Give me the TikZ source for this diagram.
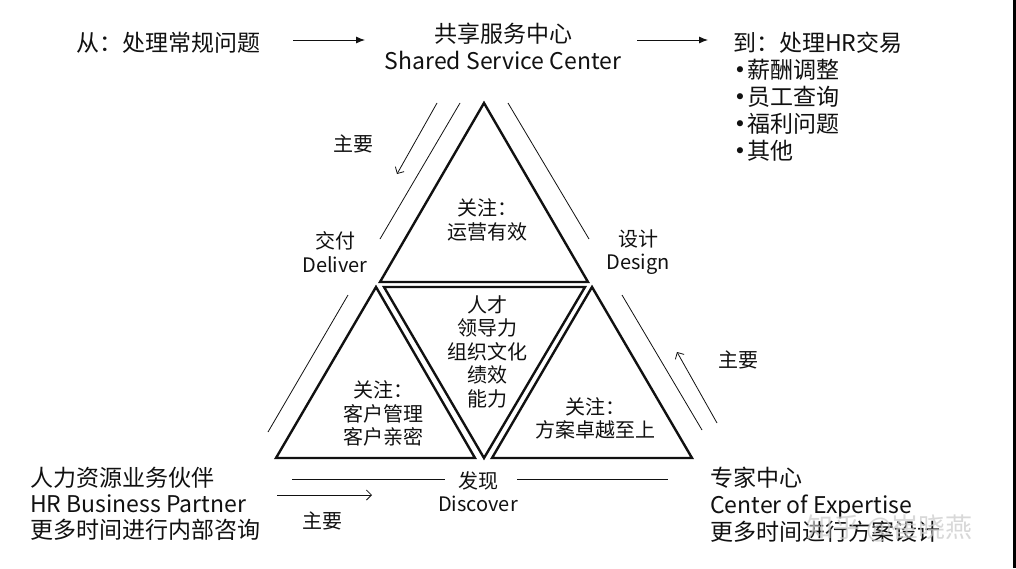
\documentclass[tikz,border=0pt]{standalone}
\usepackage{fontspec}
\setmainfont{Noto Sans CJK SC}
\newfontfamily\dejavu{DejaVu Sans}
\usetikzlibrary{arrows.meta}
\definecolor{ink}{HTML}{111111}
\tikzset{
  tri/.style={draw=ink, line width=2.4pt, line join=miter},
  thinline/.style={draw=ink, line width=0.8pt},
  barb/.style={thinline, -{Straight Barb[length=5pt,width=10pt]}},
  solidarrow/.style={draw=ink, line width=0.9pt, -{Latex[length=9pt,width=7pt]}},
  big/.style={text=ink, font=\fontsize{23}{27}\selectfont, inner sep=0pt},
  bullet/.style={text=ink, font=\dejavu\fontsize{21}{24}\selectfont, inner sep=0pt},
  mid/.style={text=ink, font=\fontsize{20}{23.5}\selectfont, inner sep=0pt, align=center},
  wm/.style={text=gray!40, font=\fontsize{27}{30}\selectfont, inner sep=0pt, opacity=0.75},
}
\begin{document}
\begin{tikzpicture}[x=1pt,y=-1pt]
\useasboundingbox (0,0) rectangle (1016,568);
\fill[white] (0,0) rectangle (1016,568);
\fill[black] (1013,0) rectangle (1016,568);

% top row
\node[big, anchor=west] (from) at (76,43) {从：处理常规问题};
\node[big, align=center] (ssc) at (503,46.5) {共享服务中心\\Shared Service Center};
\node[big, anchor=west] (to) at (733,43) {到：处理HR交易};
\foreach \i/\t/\y in {1/薪酬调整/70, 2/员工查询/97, 3/福利问题/124, 4/其他/151}{
  \node[bullet] (b\i) at (740,\y+2) {•};
  \node[big, anchor=west] (item\i) at (747,\y) {\t};
}
\coordinate (a1s) at (293,40); \coordinate (a1e) at (365,40);
\coordinate (a2s) at (637,40); \coordinate (a2e) at (708,40);
\draw[solidarrow] (a1s) -- (a1e);
\draw[solidarrow] (a2s) -- (a2e);

% triangles
\draw[tri] (484,103) -- (380,282) -- (588,282) -- cycle;
\draw[tri] (384,287) -- (585,287) -- (484,458) -- cycle;
\draw[tri] (376,287) -- (276,458) -- (475,458) -- cycle;
\draw[tri] (592,287) -- (492,458) -- (692,458) -- cycle;

% parallel lines and arrows
\coordinate (tl1s) at (437,103); \coordinate (tl1e) at (397,174);
\coordinate (tl2s) at (460,103); \coordinate (tl2e) at (380,239);
\coordinate (trs) at (508,103);  \coordinate (tre) at (589,239);
\coordinate (lls) at (348,295);  \coordinate (lle) at (268,432);
\coordinate (rls) at (622,295);  \coordinate (rle) at (702,430);
\coordinate (ras) at (717,423);  \coordinate (rae) at (677,352);
\coordinate (bl1s) at (292,479); \coordinate (bl1e) at (445,479);
\coordinate (bl2s) at (517,479); \coordinate (bl2e) at (668,479);
\coordinate (bas) at (277,495);  \coordinate (bae) at (372,495);
\draw[barb] (tl1s) -- (tl1e);
\draw[thinline] (tl2s) -- (tl2e);
\draw[thinline] (trs) -- (tre);
\draw[thinline] (lls) -- (lle);
\draw[thinline] (rls) -- (rle);
\draw[barb] (ras) -- (rae);
\draw[thinline] (bl1s) -- (bl1e);
\draw[thinline] (bl2s) -- (bl2e);
\draw[barb] (bas) -- (bae);

% labels
\node[mid] (m1) at (353,144) {主要};
\node[mid] (m2) at (322,521) {主要};
\node[mid] (m3) at (738,360) {主要};
\node[mid] (deliver) at (335,252) {交付\\Deliver};
\node[mid] (design) at (638,252) {设计\\Design};
\node[mid] (discover) at (478,491.5) {发现\\Discover};

% triangle contents
\node[mid] (topc) at (487,220) {关注：\\运营有效};
\node[mid] (midc) at (487,351.5) {人才\\领导力\\组织文化\\绩效\\能力};
\node[mid] (leftc) at (383,413.5) {关注：\\客户管理\\客户亲密};
\node[mid] (rightc) at (595,418.5) {关注：\\方案卓越至上};

% bottom blocks
\node[big, anchor=west, align=left, font=\fontsize{23}{26}\selectfont] (hrbp) at (30,504) {人力资源业务伙伴\\HR Business Partner\\更多时间进行内部咨询};
\node[big, anchor=west, align=left, font=\fontsize{23}{27}\selectfont] (coe) at (710,504.5) {专家中心\\Center of Expertise\\更多时间进行方案设计};

% watermark
\node[wm, anchor=west] (wmark) at (806,528) {知乎 @崔晓燕};
\end{tikzpicture}
\end{document}
